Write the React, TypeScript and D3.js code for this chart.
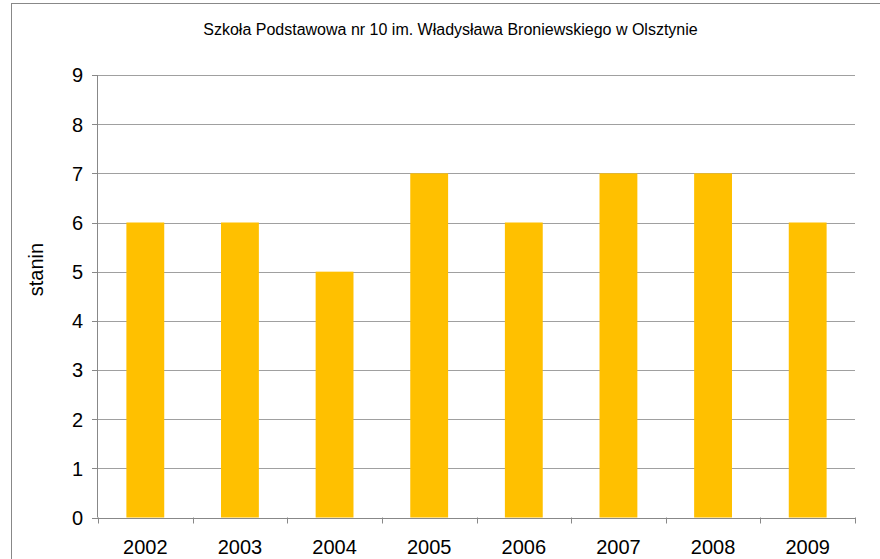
import React from "react";
import * as d3 from "d3";

const title = "Szkoła Podstawowa nr 10 im. Władysława Broniewskiego w Olsztynie";
const years = ["2002", "2003", "2004", "2005", "2006", "2007", "2008", "2009"];
const stanin = [6, 6, 5, 7, 6, 7, 7, 6];
const yTicks = [0, 1, 2, 3, 4, 5, 6, 7, 8, 9];
const yLabel = "stanin";

export default function App() {
  const W = 880, H = 559;
  const left = 98, right = 855, top = 75, bottom = 517.5;
  const x = d3.scaleBand().domain(years).range([left, right]).paddingInner(0.6).paddingOuter(0.3);
  const xEdge = d3.scaleBand().domain(years).range([left, right]);
  const y = d3.scaleLinear().domain([0, 9]).range([bottom, top]);
  const font = "'Liberation Sans', Arial, sans-serif";
  return (
    <svg width={W} height={H} style={{ position: "absolute", left: 0, top: 0, background: "#fff" }} fontFamily={font}>
      <rect x={11.5} y={3.5} width={W + 20} height={H + 20} fill="#fff" stroke="#888" strokeWidth={1} />
      <text x={450.5} y={34.5} textAnchor="middle" fontSize={16} fill="#000">{title}</text>
      {yTicks.map((t) => (
        <g key={t}>
          {t > 0 && <line x1={left} x2={right} y1={Math.round(y(t)) + 0.5} y2={Math.round(y(t)) + 0.5} stroke="#a0a0a0" strokeWidth={1} />}
          <line x1={left - 6} x2={left} y1={Math.round(y(t)) + 0.5} y2={Math.round(y(t)) + 0.5} stroke="#888" strokeWidth={1} />
          <text x={83} y={y(t) + 7.4} textAnchor="end" fontSize={20} fill="#000">{t}</text>
        </g>
      ))}
      {years.map((yr, i) => (
        <rect key={yr} x={x(yr)} y={y(stanin[i])} width={x.bandwidth()} height={bottom - y(stanin[i])} fill="#FFC000" />
      ))}
      <line x1={left - 0.5} x2={left - 0.5} y1={top} y2={bottom} stroke="#888" strokeWidth={1} />
      <line x1={left} x2={right} y1={Math.round(bottom) + 0.5} y2={Math.round(bottom) + 0.5} stroke="#888" strokeWidth={1} />
      {[...years.map((yr) => xEdge(yr) as number), right].map((px, i) => (
        <line key={i} x1={Math.round(px) + 0.5} x2={Math.round(px) + 0.5} y1={bottom} y2={bottom + 6} stroke="#888" strokeWidth={1} />
      ))}
      {years.map((yr) => (
        <text key={yr} x={(xEdge(yr) as number) + xEdge.bandwidth() / 2} y={554} textAnchor="middle" fontSize={20} fill="#000">{yr}</text>
      ))}
      <text transform={`translate(43,269.5) rotate(-90)`} textAnchor="middle" fontSize={20} fill="#000">{yLabel}</text>
    </svg>
  );
}
